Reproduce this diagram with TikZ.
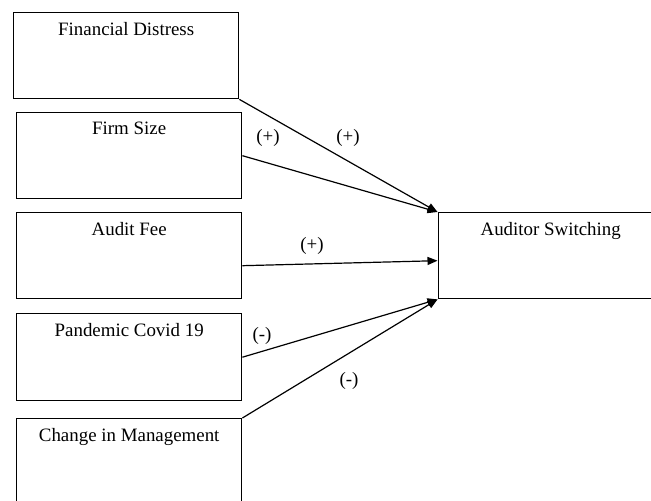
\documentclass[tikz,border=0pt]{standalone}
\usepackage{fontspec}
\setmainfont{Liberation Serif}
\usetikzlibrary{arrows.meta,positioning}

\tikzset{
  varbox/.style={draw, line width=0.7pt, rectangle, anchor=north west,
    minimum width=112.5pt, minimum height=43pt, inner sep=0pt},
  boxtext/.style={anchor=north, inner sep=0pt, yshift=-5pt},
  sign/.style={inner sep=0pt},
  arr/.style={line width=0.6pt, -{Triangle[length=5pt,width=4pt]}}
}

\begin{document}
\begin{tikzpicture}[x=0.5pt, y=-0.5pt,
  font=\fontsize{9.45}{11.3}\selectfont]
\clip (0,0) rectangle (651,501);

% independent variables
\node[varbox, label={[boxtext]north:Financial Distress}] (fd) at (13,12) {};
\node[varbox, label={[boxtext]north:Firm Size}] (fs) at (16,112) {};
\node[varbox, label={[boxtext]north:Audit Fee}] (af) at (16,212) {};
\node[varbox, minimum height=43.5pt, label={[boxtext]north:Pandemic Covid 19}] (pc) at (16,313) {};
\node[varbox, label={[boxtext]north:Change in Management}] (cm) at (16,418) {};

% dependent variable
\node[varbox, label={[boxtext]north:Auditor Switching}] (as) at (437.5,212) {};

% relations
\draw[arr] (fd.south east) -- (as.north west);
\draw[arr] (fs.east) -- (as.north west);
\draw[arr] ([yshift=-5pt]af.east) -- ([yshift=-2.5pt]as.west);
\draw[arr] (pc.east) -- (as.south west);
\draw[arr] (cm.north east) -- (as.south west);

% signs
\node[sign] (sfd) at (348,138) {(+)};
\node[sign] (sfs) at (268,138) {(+)};
\node[sign] (saf) at (312,246) {(+)};
\node[sign] (spc) at (262,336) {(-)};
\node[sign] (scm) at (349,381) {(-)};
\end{tikzpicture}
\end{document}
